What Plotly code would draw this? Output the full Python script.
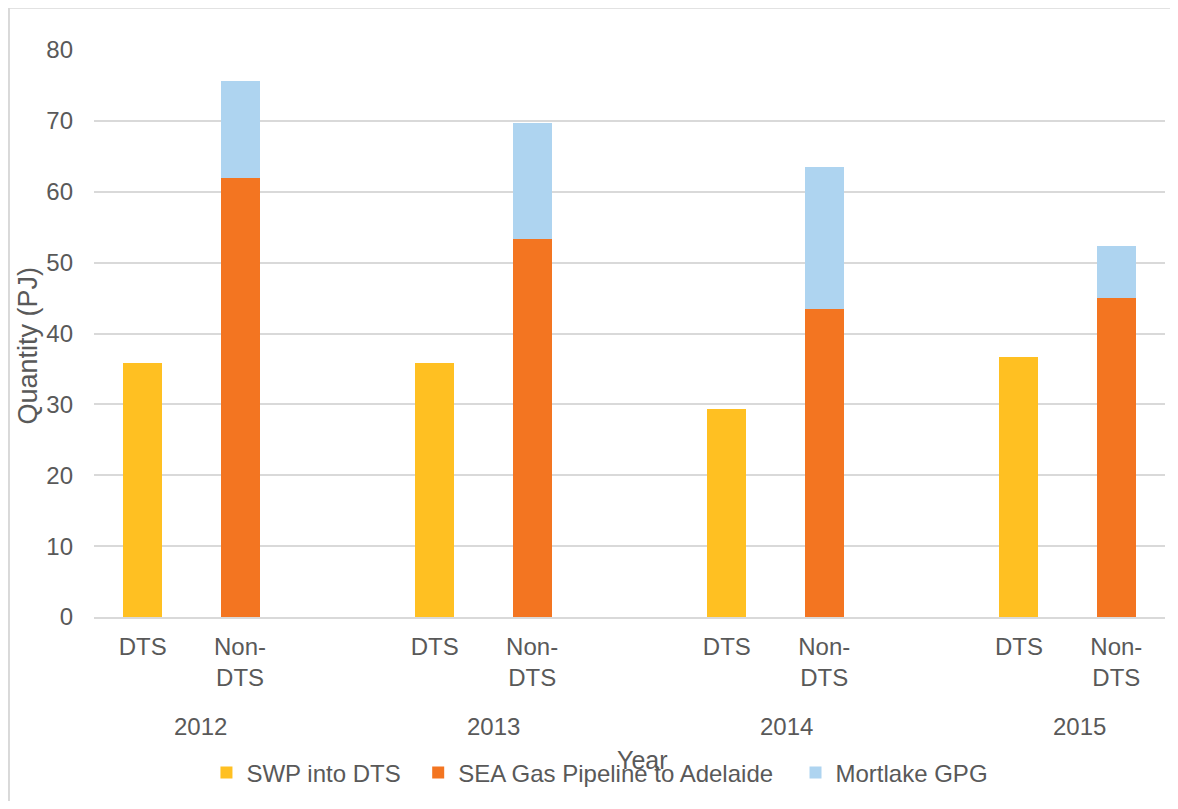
import plotly.graph_objects as go

# ---- data ----
years = ["2012", "2013", "2014", "2015"]
sub_labels = ["DTS", "Non-<br>DTS"]
swp_into_dts = [35.8, 35.9, 29.4, 36.7]          # DTS bars
sea_gas_adelaide = [61.9, 53.3, 43.5, 45.05]     # Non-DTS, bottom
mortlake_gpg = [13.7, 16.4, 20.0, 7.35]          # Non-DTS, top
y_ticks = [0, 10, 20, 30, 40, 50, 60, 70, 80]

# category slot positions (a blank slot between years, as in the original)
dts_x = [3 * i for i in range(len(years))]
non_x = [3 * i + 1 for i in range(len(years))]

FONT = "Liberation Sans, Arial, sans-serif"
TXT = "#595959"
GRID = "#D9D9D9"

fig = go.Figure()
fig.add_trace(go.Bar(x=dts_x, y=swp_into_dts, name="SWP into DTS", legend="legend",
                     marker=dict(color="#FFC022", line=dict(width=0)), width=0.4))
fig.add_trace(go.Bar(x=non_x, y=sea_gas_adelaide, name="SEA Gas Pipeline to Adelaide",
                     legend="legend2",
                     marker=dict(color="#F37521", line=dict(width=0)), width=0.4))
fig.add_trace(go.Bar(x=non_x, y=mortlake_gpg, name="Mortlake GPG", legend="legend3",
                     marker=dict(color="#AED4F0", line=dict(width=0)), width=0.4))

tickvals = []
ticktext = []
for a, b in zip(dts_x, non_x):
    tickvals += [a, b]
    ticktext += sub_labels

def leg(xpos):
    return dict(orientation="h", x=xpos, xanchor="left", y=-0.275, yanchor="middle",
                font=dict(size=24, color=TXT), itemsizing="constant",
                bgcolor="rgba(0,0,0,0)")

fig.update_layout(
    barmode="stack",
    width=1162, height=793,
    margin=dict(l=86, r=5, t=42, b=181),
    paper_bgcolor="white", plot_bgcolor="white",
    font=dict(family=FONT, size=24, color=TXT),
    xaxis=dict(range=[-0.5, 10.5], tickvals=tickvals, ticktext=ticktext,
               showgrid=False, zeroline=False, showline=True, linecolor=GRID, linewidth=2,
               ticks="", ticklabelstandoff=7, fixedrange=True),
    yaxis=dict(range=[0, 80], tickvals=y_ticks, showgrid=True, gridcolor=GRID, gridwidth=2,
               zeroline=False, showline=False, ticks="", ticklabelstandoff=20),
    legend=leg(0.105),
    legend2=leg(0.3027),
    legend3=leg(0.655),
    showlegend=True,
)

# group (year) labels under the sub-categories
for i, yr in enumerate(years):
    mid = (dts_x[i] + non_x[i]) / 2 + 0.09 + 0.012 * i
    fig.add_annotation(x=mid, xref="x", y=-0.193, yref="paper", text=yr, showarrow=False,
                       font=dict(size=24, color=TXT), xanchor="center", yanchor="middle")

# axis titles
fig.add_annotation(x=0.512, xref="paper", y=-0.252, yref="paper", text="Year", showarrow=False,
                   font=dict(size=25, color=TXT), xanchor="center", yanchor="middle")
fig.add_annotation(x=-0.0615, xref="paper", y=0.479, yref="paper", text="Quantity (PJ)",
                   textangle=-90, showarrow=False, font=dict(size=27, color=TXT),
                   xanchor="center", yanchor="middle")

# chart border (only top and left edges fall inside the picture)
fig.add_shape(type="line", xref="paper", yref="paper",
              x0=-0.0794, x1=1.2, y0=1.0746, y1=1.0746,
              line=dict(color=GRID, width=2), layer="below")
fig.add_shape(type="line", xref="paper", yref="paper",
              x0=-0.0794, x1=-0.0794, y0=-0.5, y1=1.0746,
              line=dict(color=GRID, width=2), layer="below")

fig.write_html("out.html")
